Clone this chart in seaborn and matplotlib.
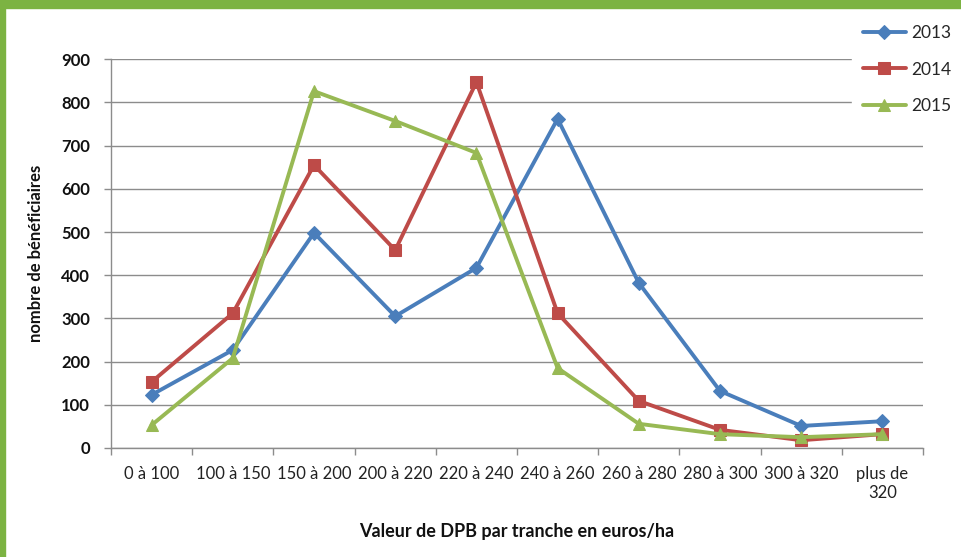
import numpy as np
import pandas as pd
import matplotlib
matplotlib.use("Agg")
import matplotlib.pyplot as plt
from matplotlib.patches import Rectangle
from matplotlib.ticker import FixedLocator
import seaborn as sns

# Data
tranches = ["0 à 100", "100 à 150", "150 à 200", "200 à 220", "220 à 240",
            "240 à 260", "260 à 280", "280 à 300", "300 à 320", "plus de\n320"]
annees = ["2013", "2014", "2015"]
val_2013 = [123, 227, 498, 305, 417, 762, 382, 132, 51, 62]
val_2014 = [153, 312, 655, 458, 847, 312, 109, 42, 18, 32]
val_2015 = [53, 208, 826, 757, 683, 185, 56, 32, 25, 32]

couleurs = {"2013": "#4A7EBB", "2014": "#BE4B48", "2015": "#98B954"}
marqueurs = {"2013": "D", "2014": "s", "2015": "^"}
tailles = {"2013": 7, "2014": 9, "2015": 9}

df = pd.DataFrame({
    "pos": list(range(len(tranches))) * 3,
    "valeur": val_2013 + val_2014 + val_2015,
    "annee": np.repeat(annees, len(tranches)),
})

sns.set_theme(style="white")
plt.rcParams["font.family"] = ["Lato", "DejaVu Sans"]

fig = plt.figure(figsize=(9.61, 5.57), dpi=100)
ax = fig.add_axes([0.1155, 0.1957, 0.845, 0.698])

for an in annees:
    sub = df[df["annee"] == an]
    sns.lineplot(data=sub, x="pos", y="valeur", ax=ax, color=couleurs[an],
                 marker=marqueurs[an], markersize=tailles[an], linewidth=2.8,
                 markeredgecolor=couleurs[an], label=an, legend=False)

ax.set_xlim(-0.5, len(tranches) - 0.5)
ax.set_ylim(0, 900)
ax.set_yticks(range(0, 901, 100))
ax.yaxis.grid(True, color="#8C8C8C", linewidth=1)
ax.set_axisbelow(True)

ax.set_xticks(range(len(tranches)))
ax.set_xticklabels(tranches, fontsize=12, color="#222222")
ax.xaxis.set_minor_locator(FixedLocator(np.arange(-0.5, len(tranches), 1)))
ax.tick_params(axis="x", which="major", length=0, pad=13)
ax.tick_params(axis="x", which="minor", length=5, color="#8C8C8C", width=1,
               bottom=True)
ax.tick_params(axis="y", length=5, color="#8C8C8C", width=1, left=True,
               labelsize=12, pad=10, labelcolor="#111111")
for lab in ax.get_yticklabels():
    lab.set_fontweight("bold")

for s in ["top", "right"]:
    ax.spines[s].set_visible(False)
for s in ["left", "bottom"]:
    ax.spines[s].set_color("#8C8C8C")
    ax.spines[s].set_linewidth(1)

ax.set_xlabel("Valeur de DPB par tranche en euros/ha", fontsize=13,
              fontweight="bold", labelpad=16, color="#111111")
ax.set_ylabel("nombre de bénéficiaires", fontsize=12, fontweight="bold",
              labelpad=12, color="#111111")

# legend sits on a white box over the right end of the gridlines
h, l = ax.get_legend_handles_labels()
leg = fig.legend(h, l, loc="upper right", bbox_to_anchor=(1.01, 0.99),
                 frameon=True, facecolor="white", edgecolor="white", framealpha=1,
                 fancybox=False, fontsize=12.5, handlelength=2.5,
                 labelspacing=1.2, handletextpad=0.3, borderpad=0.6)
leg.set_zorder(5)

# green frame on top and left
fig.patches.append(Rectangle((0, 1 - 8 / 557), 1, 8 / 557, transform=fig.transFigure,
                             color="#7CB342", zorder=10))
fig.patches.append(Rectangle((0, 0), 5 / 961, 1, transform=fig.transFigure,
                             color="#7CB342", zorder=10))

fig.savefig("out.png", dpi=100)
